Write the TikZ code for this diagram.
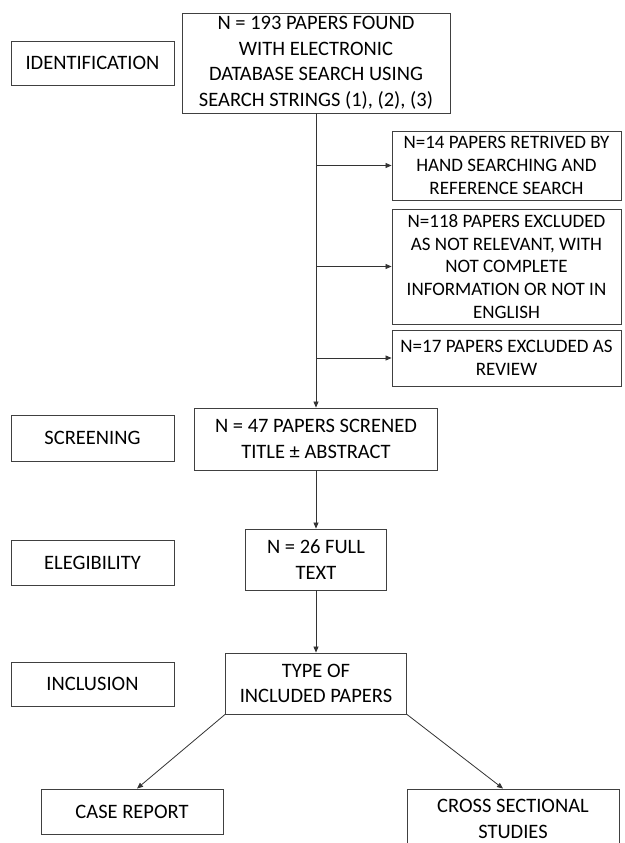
\documentclass[tikz,border=0pt]{standalone}
\usepackage{fontspec}
\setmainfont{Carlito}
\usetikzlibrary{arrows.meta}
\begin{document}
\begin{tikzpicture}[x=1pt, y=-1pt,
    box/.style={draw=black!75, line width=0.9pt, align=center, inner sep=2pt,
                font=\fontsize{20.5}{25.5}\selectfont},
    sidebox/.style={box, font=\fontsize{19}{22.7}\selectfont},
    arr/.style={-{Triangle[length=6pt,width=5pt]}, line width=0.8pt, draw=black!80}]
    \clip (0,0) rectangle (624,843);

    % stage labels
    \node[box, minimum width=163pt, minimum height=44pt] at (92.5, 63)  (ident) {IDENTIFICATION};
    \node[box, minimum width=163pt, minimum height=46pt] at (92.5, 438) (screen) {SCREENING};
    \node[box, minimum width=163pt, minimum height=45pt] at (92.5, 562.5) (elig) {ELEGIBILITY};
    \node[box, minimum width=163pt, minimum height=44pt] at (92.5, 684) (incl) {INCLUSION};

    % main flow
    \node[box, minimum width=268pt, minimum height=100pt] at (316, 63) (found)
        {N = 193 PAPERS FOUND\\WITH ELECTRONIC\\DATABASE SEARCH USING\\SEARCH STRINGS (1), (2), (3)};
    \node[box, minimum width=243pt, minimum height=62pt] at (316, 439) (screened)
        {N = 47 PAPERS SCRENED\\TITLE ± ABSTRACT};
    \node[box, minimum width=141pt, minimum height=61pt] at (316, 559.5) (fulltext)
        {N = 26 FULL\\TEXT};
    \node[box, minimum width=181pt, minimum height=61pt] at (316, 683.5) (types)
        {TYPE OF\\INCLUDED PAPERS};
    \node[box, minimum width=182pt, minimum height=45pt] at (132, 811.5) (casereport)
        {CASE REPORT};
    \node[box, minimum width=212pt, minimum height=60pt] at (513, 819) (crosssec)
        {CROSS SECTIONAL\\STUDIES};

    % side boxes
    \node[sidebox, minimum width=229pt, minimum height=69pt] at (506.5, 165.5) (hand)
        {N=14 PAPERS RETRIVED BY\\HAND SEARCHING AND\\REFERENCE SEARCH};
    \node[sidebox, minimum width=229pt, minimum height=115pt] at (506.5, 266.5) (notrel)
        {N=118 PAPERS EXCLUDED\\AS NOT RELEVANT, WITH\\NOT COMPLETE\\INFORMATION OR NOT IN\\ENGLISH};
    \node[sidebox, minimum width=229pt, minimum height=56pt] at (506.5, 358) (review)
        {N=17 PAPERS EXCLUDED AS\\REVIEW};

    \draw[arr] (found) -- (screened);
    \draw[arr] (found.south |- hand.west) -- (hand.west);
    \draw[arr] (found.south |- notrel.west) -- (notrel.west);
    \draw[arr] (found.south |- review.west) -- (review.west);
    \draw[arr] (screened) -- (fulltext);
    \draw[arr] (fulltext) -- (types);
    \draw[arr] (types.south west) -- ([xshift=5pt]casereport.north);
    \draw[arr] (types.south east) -- ([xshift=-10pt]crosssec.north);
\end{tikzpicture}
\end{document}
